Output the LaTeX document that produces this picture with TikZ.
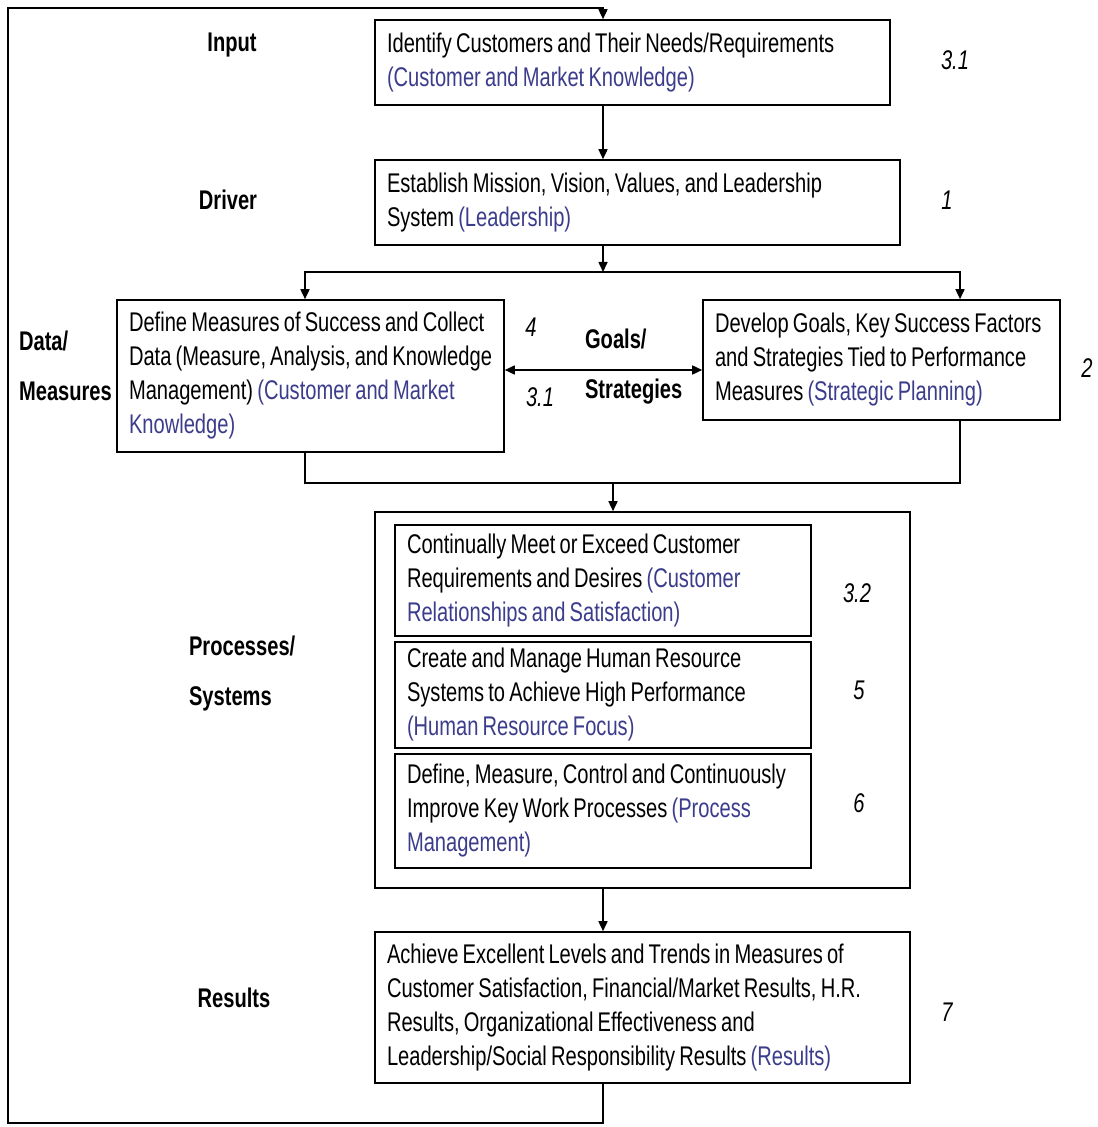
\documentclass[tikz,border=0pt]{standalone}
\usepackage{fontspec}
\setmainfont{Liberation Sans}[FakeStretch=0.745]
\usetikzlibrary{arrows.meta,positioning}
\definecolor{crit}{HTML}{3C3C8C}
\newcommand{\stagefont}{\fontsize{13.5}{17}\selectfont
  \spaceskip=2.1pt plus 1pt minus 0.5pt\hyphenpenalty=10000 }
\newcommand{\crit}[1]{\textcolor{crit}{#1}}
\tikzset{
  stage/.style={draw, line width=0.8pt, align=flush left, inner xsep=6pt,
                inner ysep=0pt, font=\stagefont},
  rowlbl/.style={font=\bfseries\stagefont, align=flush left},
  itemno/.style={font=\itshape\stagefont},
  flow/.style={-{Triangle[length=5pt,width=4.5pt]}, line width=0.8pt},
  twoway/.style={{Triangle[length=5pt,width=4.5pt]}-{Triangle[length=5pt,width=4.5pt]},
                 line width=0.8pt},
  link/.style={line width=0.8pt},
}

\begin{document}
\begin{tikzpicture}[x=0.5pt, y=-0.5pt]
  \useasboundingbox (0,0) rectangle (1097,1127);

  % ---------------------------------------------------------- the stages
  \node[stage, minimum width=257.5pt, minimum height=42.5pt, text width=245.5pt]
    (ident) at (632.5,62.5) {Identify Customers and Their Needs/Requirements\\
    \crit{(Customer and Market Knowledge)}};
  \node[stage, minimum width=262.5pt, minimum height=42.5pt, text width=250.5pt]
    (mission) at (637.5,202.5) {Establish Mission, Vision, Values, and Leadership\\
    System \crit{(Leadership)}};
  \node[stage, minimum width=193.5pt, minimum height=76pt, text width=181.5pt]
    (measures) at (310.5,376) {Define Measures of Success and Collect\\
    Data (Measure, Analysis, and Knowledge\\
    Management) \crit{(Customer and Market}\\ \crit{Knowledge)}};
  \node[stage, minimum width=178.5pt, minimum height=60pt, text width=166.5pt]
    (goals) at (881.5,360) {Develop Goals, Key Success Factors\\
    and Strategies Tied to Performance\\
    Measures \crit{(Strategic Planning)}};

  \node[stage, minimum width=267.5pt, minimum height=188pt] (procs) at (642.5,700) {};
  \node[stage, minimum width=208pt, minimum height=55.5pt, text width=196pt]
    (meet) at (603,580.5) {Continually Meet or Exceed Customer\\
    Requirements and Desires \crit{(Customer}\\ \crit{Relationships and Satisfaction)}};
  \node[stage, minimum width=208pt, minimum height=53pt, text width=196pt]
    (hr) at (603,695) {Create and Manage Human Resource\\
    Systems to Achieve High Performance\\ \crit{(Human Resource Focus)}};
  \node[stage, minimum width=208pt, minimum height=57pt, text width=196pt]
    (improve) at (603,811) {Define, Measure, Control and Continuously\\
    Improve Key Work Processes \crit{(Process}\\ \crit{Management)}};

  \node[stage, minimum width=267.5pt, minimum height=75.5pt, text width=255.5pt]
    (results) at (642.5,1007.5) {Achieve Excellent Levels and Trends in Measures of\\
    Customer Satisfaction, Financial/Market Results, H.R.\\
    Results, Organizational Effectiveness and\\
    Leadership/Social Responsibility Results \crit{(Results)}};

  % ---------------------------------------------------------- row labels
  \node[rowlbl] (lblin) at (232,45) {Input};
  \node[rowlbl] (lbldrv) at (228,200) {Driver};
  \node[rowlbl, anchor=west] (lbldata) at (12,366) {Data/\\[8pt]Measures};
  \node[rowlbl, anchor=west] (lblgoals) at (578,367) {Goals/\\[8pt]Strategies};
  \node[rowlbl, anchor=west] (lblproc) at (182,674) {Processes/\\[8pt]Systems};
  \node[rowlbl] (lblres) at (234,998) {Results};

  % ---------------------------------------------------------- item numbers
  \node[itemno] (n31a) at (955,60) {3.1};
  \node[itemno] (n1) at (947,200) {1};
  \node[itemno] (n4) at (531,327) {4};
  \node[itemno] (n31b) at (540,397) {3.1};
  \node[itemno] (n2) at (1087,368) {2};
  \node[itemno] (n32) at (857,593) {3.2};
  \node[itemno] (n5) at (859,690) {5};
  \node[itemno] (n6) at (859,803) {6};
  \node[itemno] (n7) at (947,1012) {7};

  % ---------------------------------------------------------- connectors
  \coordinate (spine) at (603,0);
  \coordinate (split) at (603,272);
  \coordinate (splitL) at (305,272);
  \coordinate (splitR) at (960,272);
  \coordinate (merge) at (613,483);
  \coordinate (gs) at (600,370);
  \coordinate (loopBL) at (8,1123);
  \coordinate (loopTL) at (8,8);

  \draw[flow] (ident.south -| spine) -- (mission.north -| spine);
  \draw[flow] (mission.south -| spine) -- (split);
  \draw[flow] (split) -| (splitL |- measures.north);
  \draw[flow] (split) -| (splitR |- goals.north);
  \draw[twoway] (measures.east |- gs) -- (goals.west |- gs);
  \draw[link] (measures.south -| splitL) |- (merge);
  \draw[link] (goals.south -| splitR) |- (merge);
  \draw[flow] (merge) -- (merge |- procs.north);
  \draw[flow] (procs.south -| spine) -- (results.north -| spine);

  % feedback loop round the left
  \draw[flow] (results.south -| spine) |- (loopBL) -- (loopTL) -| (ident.north -| spine);
\end{tikzpicture}
\end{document}
